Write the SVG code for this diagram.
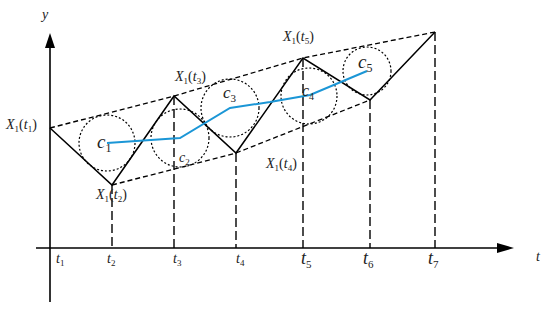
<svg xmlns="http://www.w3.org/2000/svg" width="550" height="311" viewBox="0 0 550 311">
<style>
.ax{stroke:#000;stroke-width:1.6;fill:none}
.zz{stroke:#000;stroke-width:1.5;fill:none;stroke-linejoin:miter}
.env{stroke:#000;stroke-width:1.3;fill:none;stroke-dasharray:5,3}
.vd{stroke:#000;stroke-width:1.4;fill:none;stroke-dasharray:9,4}
.cir{stroke:#000;stroke-width:1.2;fill:none;stroke-dasharray:2,2}
.blue{stroke:#1b96d6;stroke-width:2;fill:none}
text{font-family:"Liberation Serif","Times New Roman",serif;fill:#222}
.it{font-style:italic}
.s{font-style:normal}
</style>
<g id="axes">
<line class="ax" x1="50" y1="45" x2="50" y2="302"/>
<polygon points="50,33 45,48 55,48" fill="#000"/>
<line class="ax" x1="36" y1="248" x2="500" y2="248"/>
<polygon points="514,248 497,243 497,253" fill="#000"/>
<text class="it" x="42" y="19" font-size="14">y</text>
<text class="it" x="536" y="261" font-size="14">t</text>
</g>
<g id="connectors">
<polyline class="env" points="50,128 174,96 303,58 435,32"/>
<polyline class="env" points="112,185 236,153 370,100"/>
<line class="vd" x1="112" y1="185" x2="112" y2="248"/>
<line class="vd" x1="174" y1="96" x2="174" y2="248"/>
<line class="vd" x1="236" y1="153" x2="236" y2="248"/>
<line class="vd" x1="303" y1="58" x2="303" y2="248"/>
<line class="vd" x1="370" y1="100" x2="370" y2="248"/>
<line class="vd" x1="435" y1="32" x2="435" y2="248"/>
</g>
<g id="signal">
<polyline class="zz" points="50,128 112,185 174,96 236,153 303,58 370,100 435,32"/>
</g>
<g id="circles">
<circle id="c1" class="cir" cx="107" cy="143" r="28"/>
<circle id="c2" class="cir" cx="180" cy="138" r="29"/>
<circle id="c3" class="cir" cx="230" cy="108" r="29"/>
<circle id="c4" class="cir" cx="309" cy="96" r="28"/>
<circle id="c5" class="cir" cx="367" cy="71" r="24"/>
</g>
<g id="centers">
<polyline class="blue" points="107,143 180,138 230,108 270,102 310,95 367,71"/>
</g>
<g id="labels">
<text class="it" x="6" y="129" font-size="14">X<tspan class="s" font-size="9" dy="3">1</tspan><tspan class="s" dy="-3">(</tspan>t<tspan class="s" font-size="9" dy="3">1</tspan><tspan class="s" dy="-3">)</tspan></text>
<text class="it" x="96" y="199" font-size="14">X<tspan class="s" font-size="9" dy="3">1</tspan><tspan class="s" dy="-3">(</tspan>t<tspan class="s" font-size="9" dy="3">2</tspan><tspan class="s" dy="-3">)</tspan></text>
<text class="it" x="175" y="81" font-size="14">X<tspan class="s" font-size="9" dy="3">1</tspan><tspan class="s" dy="-3">(</tspan>t<tspan class="s" font-size="9" dy="3">3</tspan><tspan class="s" dy="-3">)</tspan></text>
<text class="it" x="266" y="168" font-size="14">X<tspan class="s" font-size="9" dy="3">1</tspan><tspan class="s" dy="-3">(</tspan>t<tspan class="s" font-size="9" dy="3">4</tspan><tspan class="s" dy="-3">)</tspan></text>
<text class="it" x="283" y="41" font-size="14">X<tspan class="s" font-size="9" dy="3">1</tspan><tspan class="s" dy="-3">(</tspan>t<tspan class="s" font-size="9" dy="3">5</tspan><tspan class="s" dy="-3">)</tspan></text>
<text class="it" x="97" y="148" font-size="19">c<tspan class="s" font-size="12" dy="4">1</tspan></text>
<text class="it" x="179" y="162" font-size="14">c<tspan class="s" font-size="9" dy="3">2</tspan></text>
<text class="it" x="223" y="98" font-size="17">c<tspan class="s" font-size="11" dy="4">3</tspan></text>
<text class="it" x="302" y="96" font-size="16">c<tspan class="s" font-size="10" dy="4">4</tspan></text>
<text class="it" x="358" y="68" font-size="19">c<tspan class="s" font-size="12" dy="4">5</tspan></text>
<text class="it" x="56" y="263" font-size="14">t<tspan class="s" font-size="9" dy="3">1</tspan></text>
<text class="it" x="107" y="263" font-size="14">t<tspan class="s" font-size="9" dy="3">2</tspan></text>
<text class="it" x="173" y="263" font-size="14">t<tspan class="s" font-size="9" dy="3">3</tspan></text>
<text class="it" x="236" y="263" font-size="14">t<tspan class="s" font-size="9" dy="3">4</tspan></text>
<text class="it" x="301" y="264" font-size="18">t<tspan class="s" font-size="11" dy="4">5</tspan></text>
<text class="it" x="363" y="264" font-size="18">t<tspan class="s" font-size="11" dy="4">6</tspan></text>
<text class="it" x="428" y="264" font-size="18">t<tspan class="s" font-size="11" dy="4">7</tspan></text>
</g>
</svg>
